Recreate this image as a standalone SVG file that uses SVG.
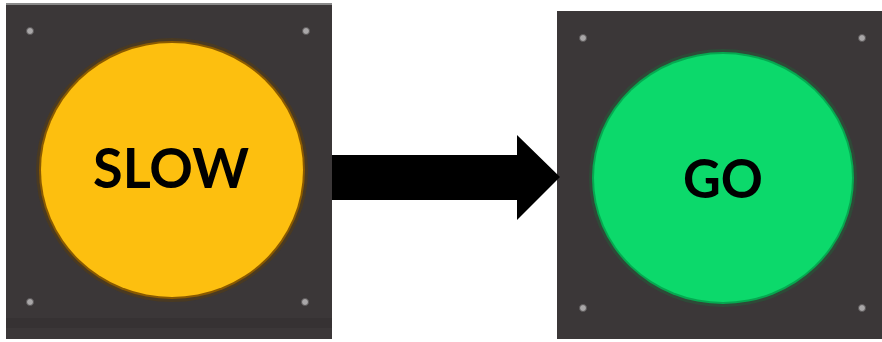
<svg xmlns="http://www.w3.org/2000/svg" width="882" height="342" viewBox="0 0 882 342">
<defs>
<style>
.panel{fill:#3b3738}
.screw{fill:#a9a7a8;stroke:#5a5758;stroke-width:1}
.lbl{font-family:Lato,"Open Sans","Liberation Sans",sans-serif;font-weight:bold;fill:#000;text-anchor:middle}
</style>
</defs>
<rect width="882" height="342" fill="#fff"/>
<g id="slow">
<rect x="6" y="3" width="326" height="336" fill="#8a8a8a"/>
<rect class="panel" x="6" y="5" width="326" height="334"/>
<rect x="6" y="318" width="326" height="10" fill="#363233"/>
<circle class="screw" cx="30" cy="31" r="3.5"/>
<circle class="screw" cx="306" cy="31" r="3.5"/>
<circle class="screw" cx="30" cy="302" r="3.5"/>
<circle class="screw" cx="305" cy="302" r="3.5"/>
<ellipse cx="172" cy="170" rx="136" ry="132" fill="#4a3a22"/>
<ellipse cx="172" cy="170" rx="133" ry="129" fill="#8a5a00"/>
<ellipse cx="172" cy="170" rx="131" ry="127" fill="#fdbf0f"/>
<text class="lbl" x="171" y="188" font-size="55" textLength="156" lengthAdjust="spacingAndGlyphs">SLOW</text>
</g>
<g id="go">
<rect class="panel" x="557" y="11" width="325" height="328"/>
<circle class="screw" cx="583" cy="38" r="3.5"/>
<circle class="screw" cx="862" cy="38" r="3.5"/>
<circle class="screw" cx="583" cy="308" r="3.5"/>
<circle class="screw" cx="862" cy="308" r="3.5"/>
<ellipse cx="723" cy="178" rx="134" ry="129" fill="#2f4a38"/>
<ellipse cx="723" cy="178" rx="131" ry="126" fill="#06a850"/>
<ellipse cx="723" cy="178" rx="129" ry="124" fill="#0cd96b"/>
<text class="lbl" x="723" y="198" font-size="53" textLength="80" lengthAdjust="spacingAndGlyphs">GO</text>
</g>
<g id="connectors">
<path d="M332,155H517V135L560,177L517,220V200H332Z" fill="#000"/>
</g>
</svg>
